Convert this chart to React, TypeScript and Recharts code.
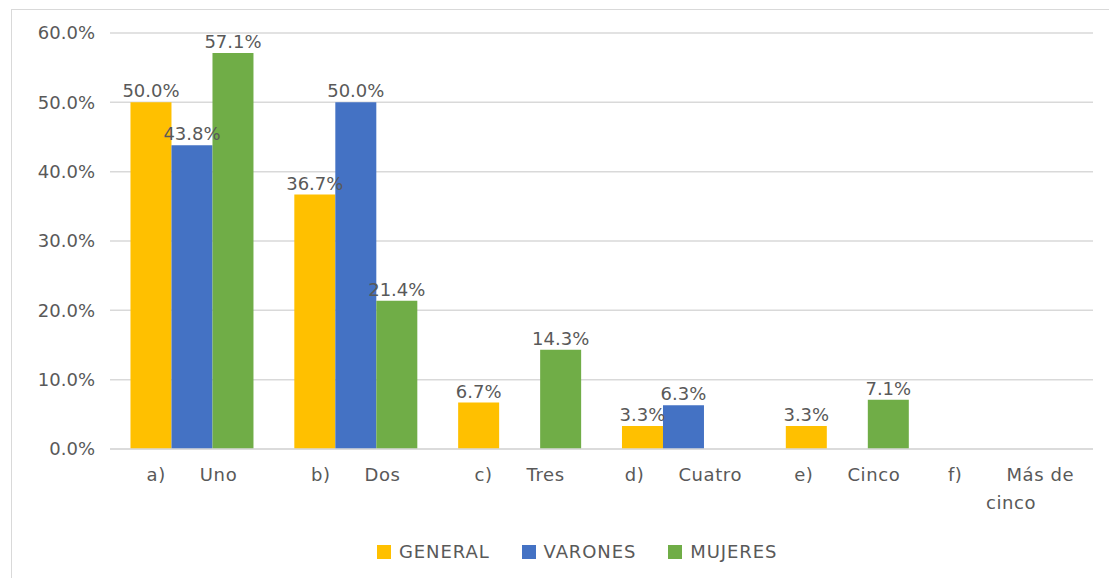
import { BarChart, Bar, XAxis, YAxis, CartesianGrid, LabelList } from "recharts";

const letters = ["a)", "b)", "c)", "d)", "e)", "f)"];
const names = ["Uno", "Dos", "Tres", "Cuatro", "Cinco", "Más de cinco"];
const general = [50.0, 36.7, 6.7, 3.3, 3.3, 0];
const varones = [43.8, 50.0, 0, 6.3, 0, 0];
const mujeres = [57.1, 21.4, 14.3, 0, 7.1, 0];
const yTicks = [0, 10, 20, 30, 40, 50, 60];

const SERIES = [
  { key: "general", label: "GENERAL", color: "#FFC000" },
  { key: "varones", label: "VARONES", color: "#4472C4" },
  { key: "mujeres", label: "MUJERES", color: "#70AD47" },
];

const TEXT = "#595959";
const FONT = "'DejaVu Sans', Verdana, sans-serif";
const FS = 18;

const data = letters.map((l, i) => ({
  cat: l + "|" + names[i],
  general: general[i],
  varones: varones[i],
  mujeres: mujeres[i],
}));

function CategoryTick({ x, y, payload }: any) {
  const [letter, name] = String(payload.value).split("|");
  // long names wrap to a second line, like Excel does
  const words = name.split(" ");
  const first = words.length > 2 ? words.slice(0, 2).join(" ") : name;
  const rest = words.length > 2 ? words.slice(2).join(" ") : null;
  return (
    <g>
      <text x={x} y={y + 24} textAnchor="middle" fill={TEXT} fontSize={FS} fontFamily={FONT} letterSpacing={0.6}>
        <tspan>{letter}</tspan>
        <tspan dx={rest ? 44 : 34}>{first}</tspan>
      </text>
      {rest && (
        <text x={x} y={y + 52} textAnchor="middle" fill={TEXT} fontSize={FS} fontFamily={FONT} letterSpacing={0.6}>
          {rest}
        </text>
      )}
    </g>
  );
}

const fmtLabel = (v: any) => (v ? Number(v).toFixed(1) + "%" : "");

export default function App() {
  return (
    <div style={{ position: "absolute", left: 0, top: 0, width: 1109, height: 578, background: "#fff", overflow: "hidden", fontFamily: FONT }}>
      <div style={{ position: "absolute", left: 11, top: 9, width: 1200, height: 700, borderLeft: "1.5px solid #d9d9d9", borderTop: "1.5px solid #d9d9d9" }} />
      <BarChart
        width={1109}
        height={578}
        data={data}
        margin={{ top: 33, right: 16, bottom: 69, left: 10 }}
        barCategoryGap="12.5%"
        barGap={0}
        style={{ position: "absolute", left: 0, top: 0 }}
      >
        <CartesianGrid vertical={false} stroke="#d9d9d9" strokeWidth={1.5} />
        <XAxis
          dataKey="cat"
          height={60}
          axisLine={{ stroke: "#d9d9d9", strokeWidth: 1.5 }}
          tickLine={false}
          interval={0}
          tick={<CategoryTick />}
        />
        <YAxis
          width={100}
          domain={[0, 60]}
          ticks={yTicks}
          axisLine={false}
          tickLine={false}
          tickMargin={9}
          tickFormatter={(v: number) => v.toFixed(1) + "%"}
          tick={{ fill: TEXT, fontSize: FS, fontFamily: FONT }}
        />
        {SERIES.map((s) => (
          <Bar key={s.key} dataKey={s.key} fill={s.color} isAnimationActive={false}>
            <LabelList
              dataKey={s.key}
              position="top"
              formatter={fmtLabel}
              fill={TEXT}
              fontSize={FS}
              fontFamily={FONT}
            />
          </Bar>
        ))}
      </BarChart>
      <div style={{ position: "absolute", left: 377, top: 541, display: "flex", alignItems: "center", color: TEXT, fontSize: FS, letterSpacing: 0.9 }}>
        {SERIES.map((s) => (
          <div key={s.key} style={{ display: "flex", alignItems: "center", marginRight: 32 }}>
            <span style={{ display: "inline-block", width: 14, height: 14, background: s.color, marginRight: 8 }} />
            <span>{s.label}</span>
          </div>
        ))}
      </div>
    </div>
  );
}
